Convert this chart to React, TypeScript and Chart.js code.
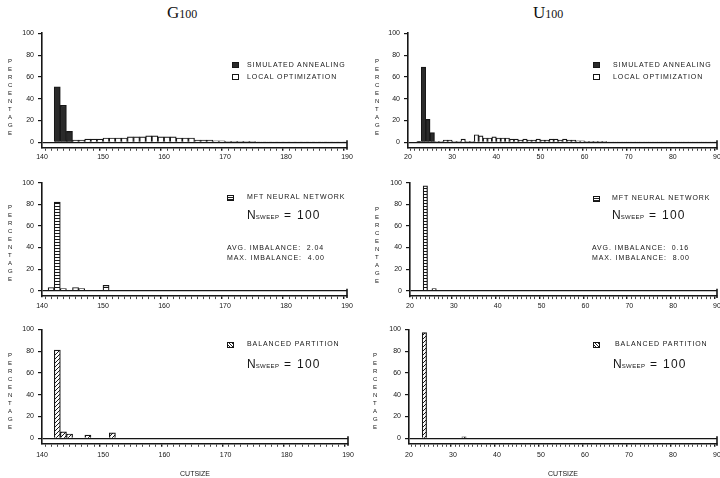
import React, { useEffect, useRef } from "react";
import { Chart, registerables } from "chart.js";

Chart.register(...registerables);

// ---------- data ----------
const gXTicks = [140, 150, 160, 170, 180, 190];
const uXTicks = [20, 30, 40, 50, 60, 70, 80, 90];
const yTicks = [0, 20, 40, 60, 80, 100];

// G100 — simulated annealing (bin lower edge, percentage)
const gSaBins = [142, 143, 144];
const gSaVals = [51, 34, 10];
// G100 — local optimization
const gLoBins = [
  144, 145, 146, 147, 148, 149, 150, 151, 152, 153, 154, 155, 156, 157, 158, 159, 160,
  161, 162, 163, 164, 165, 166, 167, 168, 169, 170, 171, 172, 173, 174, 175, 176, 177,
  178, 179, 180, 181, 182, 183, 184, 185, 186, 187, 188, 189,
];
const gLoVals = [
  2, 2, 2, 3, 3, 3, 4, 4, 4, 4, 5, 5, 5, 6, 6, 5, 5,
  5, 4, 4, 4, 2, 2, 2, 1.5, 1.5, 1, 1, 1, 1, 1, 0.5, 0.5, 0.5,
  0.5, 0.5, 0.5, 0.5, 0.5, 0.5, 0.5, 0.5, 0.5, 0.5, 0.5, 0.5,
];
// U100 — simulated annealing
const uSaBins = [22, 23, 24, 25];
const uSaVals = [1, 69, 21, 9];
// U100 — local optimization
const uLoBins = [
  26, 27, 28, 29, 30, 31, 32, 33, 34, 35, 36, 37, 38, 39, 40, 41, 42, 43, 44, 45, 46,
  47, 48, 49, 50, 51, 52, 53, 54, 55, 56, 57, 58, 59, 60, 61, 62, 63, 64, 65, 66, 67,
  68, 69, 70, 71, 72, 73, 74, 75, 76, 77, 78, 79, 80, 81, 82, 83, 84, 85, 86, 87, 88, 89,
];
const uLoVals = [
  1, 1, 2, 2, 1, 1, 3, 1, 1, 7, 6, 4, 4, 5, 4, 4, 4, 3, 3, 2, 3,
  2, 2, 3, 2, 2, 3, 3, 2, 3, 2, 2, 1.5, 1.5, 1, 1, 1, 1, 1, 0.5, 0.5, 0.5,
  0.5, 0.5, 0.5, 0.5, 0.5, 0.5, 0.5, 0.5, 0.5, 0.5, 0.5, 0.5, 0.5, 0.5, 0.5, 0.5, 0.5, 0.5, 0.5, 0.5, 0.5, 0.5,
];
// MFT neural network
const gMftBins = [141, 142, 143, 145, 146, 150];
const gMftVals = [3, 82, 2, 3, 2, 5];
const uMftBins = [23, 25];
const uMftVals = [97, 2];
// Balanced partition
const gBalBins = [142, 143, 144, 147, 151];
const gBalVals = [81, 6, 4, 3, 5];
const uBalBins = [23, 32];
const uBalVals = [97, 1.5];

// ---------- style ----------
const INK = "#161616";
const SANS = "'Liberation Sans', Arial, sans-serif";
const SERIF = "'Liberation Serif', 'Times New Roman', serif";

type Kind = "solid" | "open" | "stripe" | "hatch";

function makeFill(kind: Kind): string | CanvasPattern {
  if (kind === "solid") return "#2a2a2a";
  if (kind === "open") return "#ffffff";
  const c = document.createElement("canvas");
  const ctx = c.getContext("2d")!;
  if (kind === "stripe") {
    c.width = 4;
    c.height = 3;
    ctx.fillStyle = "#fff";
    ctx.fillRect(0, 0, 4, 3);
    ctx.fillStyle = INK;
    ctx.fillRect(0, 2, 4, 1);
  } else {
    c.width = 4;
    c.height = 4;
    ctx.fillStyle = "#fff";
    ctx.fillRect(0, 0, 4, 4);
    ctx.strokeStyle = INK;
    ctx.lineWidth = 1;
    ctx.beginPath();
    ctx.moveTo(-1, 5);
    ctx.lineTo(5, -1);
    ctx.moveTo(-1, 1);
    ctx.lineTo(1, -1);
    ctx.moveTo(3, 5);
    ctx.lineTo(5, 3);
    ctx.stroke();
  }
  return ctx.createPattern(c, "repeat")!;
}

const bandEnd = {
  id: "bandEnd",
  afterDraw(chart: any) {
    const { ctx, chartArea, scales } = chart;
    const y0 = scales.y.getPixelForValue(0);
    ctx.save();
    ctx.strokeStyle = INK;
    ctx.lineWidth = 1.6;
    ctx.beginPath();
    ctx.moveTo(chartArea.right, y0 - 2);
    ctx.lineTo(chartArea.right, chartArea.bottom + 2);
    ctx.stroke();
    ctx.restore();
  },
};

type Series = { bins: number[]; vals: number[]; kind: Kind };
type PanelDef = {
  left: number;
  top: number;
  width: number;
  height: number;
  aL: number;
  aR: number;
  aT: number;
  aB: number;
  xMin: number;
  xMax: number;
  xTicks: number[];
  series: Series[];
  cutTitle: boolean;
  tickPad: number;
};

function Panel(p: PanelDef) {
  const ref = useRef<HTMLCanvasElement>(null);
  useEffect(() => {
    const unit = (p.aR - p.aL) / (p.xMax - p.xMin);
    const minor: number[] = [];
    for (let v = p.xMin; v <= p.xMax; v++) minor.push(v);
    const datasets = p.series.map((s) => ({
      data: s.bins.map((b, i) => ({ x: b + 0.5, y: s.vals[i] })),
      backgroundColor: makeFill(s.kind),
      borderColor: INK,
      borderWidth: 1.2,
      grouped: false,
      barThickness: unit,
    }));
    const yW = p.aL - p.left;
    const xH = p.top + p.height - p.aB;
    const chart = new Chart(ref.current!, {
      type: "bar",
      data: { datasets },
      plugins: [bandEnd],
      options: {
        responsive: false,
        animation: false,
        layout: {
          padding: { left: 0, right: p.left + p.width - p.aR, top: p.aT - p.top, bottom: 0 },
        },
        plugins: { legend: { display: false }, tooltip: { enabled: false } },
        scales: {
          x: {
            type: "linear",
            min: p.xMin,
            max: p.xMax,
            offset: false,
            afterBuildTicks: (s: any) => {
              s.ticks = minor.map((v) => ({ value: v }));
            },
            afterFit: (s: any) => {
              s.height = xH;
              s.paddingLeft = 0;
              s.paddingRight = 0;
            },
            ticks: {
              autoSkip: false,
              maxRotation: 0,
              minRotation: 0,
              padding: p.tickPad,
              color: INK,
              font: { family: SANS, size: 7 },
              callback: (v: any) => (p.xTicks.includes(v) ? String(v) : ""),
            },
            grid: {
              drawOnChartArea: false,
              tickLength: 3,
              color: INK,
              lineWidth: (c: any) => (c.tick && p.xTicks.includes(c.tick.value) ? 1.4 : 0.8),
            },
            border: { display: true, color: INK, width: 1.6 },
            title: {
              display: p.cutTitle,
              text: "CUTSIZE",
              color: INK,
              font: { family: SANS, size: 7 },
              padding: { top: 0, bottom: 0 },
            },
          },
          y: {
            min: -5,
            max: 100,
            afterBuildTicks: (s: any) => {
              s.ticks = yTicks.map((v) => ({ value: v }));
            },
            afterFit: (s: any) => {
              s.width = yW;
              s.paddingTop = 0;
              s.paddingBottom = 0;
            },
            ticks: { padding: 4, color: INK, font: { family: SANS, size: 7 } },
            grid: {
              drawOnChartArea: true,
              tickLength: 4,
              color: (c: any) => (c.tick && c.tick.value === 0 ? INK : "rgba(0,0,0,0)"),
              tickColor: INK,
              lineWidth: 1.2,
            },
            border: { display: true, color: INK, width: 1.6 },
          },
        },
      } as any,
    });
    return () => chart.destroy();
  }, []);
  return (
    <canvas
      ref={ref}
      width={p.width}
      height={p.height}
      style={{ position: "absolute", left: p.left, top: p.top, width: p.width, height: p.height }}
    />
  );
}

const swatchBg: Record<Kind, string> = {
  solid: "#2a2a2a",
  open: "#ffffff",
  stripe: "repeating-linear-gradient(to bottom, #fff 0px, #fff 1px, #222 1px, #222 2px)",
  hatch: "repeating-linear-gradient(45deg, #fff 0px, #fff 1px, #222 1px, #222 2px)",
};

function Small(props: { x: number; y: number; text: string }) {
  return (
    <div
      style={{
        position: "absolute",
        left: props.x,
        top: props.y - 4,
        fontFamily: SANS,
        fontSize: 7,
        lineHeight: "8px",
        letterSpacing: 0.9,
        color: INK,
        whiteSpace: "pre",
      }}
    >
      {props.text}
    </div>
  );
}

function Swatch(props: { x: number; y: number; kind: Kind }) {
  return (
    <div
      style={{
        position: "absolute",
        left: props.x,
        top: props.y,
        width: 5,
        height: 4,
        border: `1px solid ${INK}`,
        background: swatchBg[props.kind],
      }}
    />
  );
}

function NSweep(props: { x: number; y: number }) {
  return (
    <div
      style={{
        position: "absolute",
        left: props.x,
        top: props.y - 8,
        fontFamily: SANS,
        color: INK,
        whiteSpace: "pre",
        lineHeight: "16px",
      }}
    >
      <span style={{ fontSize: 12 }}>N</span>
      <span style={{ fontSize: 6, letterSpacing: 0.4 }}>SWEEP</span>
      <span style={{ fontSize: 12, letterSpacing: 1.3 }}> = 100</span>
    </div>
  );
}

function Vert(props: { x: number; y: number }) {
  return (
    <div
      style={{
        position: "absolute",
        left: props.x - 2,
        top: props.y,
        width: 1,
        fontFamily: SANS,
        fontSize: 6,
        lineHeight: "8px",
        wordBreak: "break-all",
        color: INK,
      }}
    >
      PERCENTAGE
    </div>
  );
}

function Title(props: { x: number; letter: string }) {
  return (
    <div
      style={{
        position: "absolute",
        left: props.x,
        top: 2,
        fontFamily: SERIF,
        color: "#111",
        whiteSpace: "pre",
        lineHeight: "22px",
      }}
    >
      <span style={{ fontSize: 17 }}>{props.letter}</span>
      <span style={{ fontSize: 12 }}>100</span>
    </div>
  );
}

const panels: PanelDef[] = [
  { left: 0, top: 22, width: 360, height: 146, aL: 42, aR: 347, aT: 33.3, aB: 147.8, xMin: 140, xMax: 190, xTicks: gXTicks,
    series: [ { bins: gSaBins, vals: gSaVals, kind: "solid" }, { bins: gLoBins, vals: gLoVals, kind: "open" } ], cutTitle: false, tickPad: 2 },
  { left: 360, top: 22, width: 360, height: 146, aL: 408, aR: 717, aT: 33.3, aB: 147.8, xMin: 20, xMax: 90, xTicks: uXTicks,
    series: [ { bins: uSaBins, vals: uSaVals, kind: "solid" }, { bins: uLoBins, vals: uLoVals, kind: "open" } ], cutTitle: false, tickPad: 2 },
  { left: 0, top: 168, width: 360, height: 146, aL: 42, aR: 347, aT: 182.7, aB: 296.1, xMin: 140, xMax: 190, xTicks: gXTicks,
    series: [ { bins: gMftBins, vals: gMftVals, kind: "stripe" } ], cutTitle: false, tickPad: 2.5 },
  { left: 360, top: 168, width: 360, height: 146, aL: 410, aR: 717, aT: 182.7, aB: 296.1, xMin: 20, xMax: 90, xTicks: uXTicks,
    series: [ { bins: uMftBins, vals: uMftVals, kind: "stripe" } ], cutTitle: false, tickPad: 2.5 },
  { left: 0, top: 314, width: 360, height: 164, aL: 42, aR: 348, aT: 329.3, aB: 443.8, xMin: 140, xMax: 190, xTicks: gXTicks,
    series: [ { bins: gBalBins, vals: gBalVals, kind: "hatch" } ], cutTitle: true, tickPad: 4.5 },
  { left: 360, top: 314, width: 360, height: 164, aL: 409, aR: 717, aT: 329.3, aB: 443.8, xMin: 20, xMax: 90, xTicks: uXTicks,
    series: [ { bins: uBalBins, vals: uBalVals, kind: "hatch" } ], cutTitle: true, tickPad: 4.5 },
];

export default function App() {
  return (
    <div
      style={{
        position: "absolute",
        left: 0,
        top: 0,
        width: 720,
        height: 478,
        background: "#fff",
        overflow: "hidden",
      }}
    >
      <Title x={167} letter="G" />
      <Title x={533} letter="U" />
      {panels.map((p, i) => (
        <Panel key={i} {...p} />
      ))}

      <Vert x={10} y={57} />
      <Vert x={377} y={57} />
      <Vert x={10} y={203} />
      <Vert x={377} y={205} />
      <Vert x={10} y={351} />
      <Vert x={375} y={351} />

      {/* top-left legend */}
      <Swatch x={232} y={62} kind="solid" />
      <Small x={247} y={65} text="SIMULATED ANNEALING" />
      <Swatch x={232} y={74} kind="open" />
      <Small x={247} y={77} text="LOCAL OPTIMIZATION" />
      {/* top-right legend */}
      <Swatch x={593} y={62} kind="solid" />
      <Small x={613} y={65} text="SIMULATED ANNEALING" />
      <Swatch x={593} y={74} kind="open" />
      <Small x={613} y={77} text="LOCAL OPTIMIZATION" />

      {/* middle-left */}
      <Swatch x={227} y={195} kind="stripe" />
      <Small x={247} y={197} text="MFT NEURAL NETWORK" />
      <NSweep x={247} y={214} />
      <Small x={227} y={248} text="AVG. IMBALANCE:  2.04" />
      <Small x={227} y={258} text="MAX. IMBALANCE:  4.00" />
      {/* middle-right */}
      <Swatch x={593} y={196} kind="stripe" />
      <Small x={612} y={198} text="MFT NEURAL NETWORK" />
      <NSweep x={612} y={214} />
      <Small x={592} y={248} text="AVG. IMBALANCE:  0.16" />
      <Small x={592} y={258} text="MAX. IMBALANCE:  8.00" />

      {/* bottom-left */}
      <Swatch x={227} y={342} kind="hatch" />
      <Small x={247} y={344} text="BALANCED PARTITION" />
      <NSweep x={247} y={363} />
      {/* bottom-right */}
      <Swatch x={593} y={342} kind="hatch" />
      <Small x={615} y={344} text="BALANCED PARTITION" />
      <NSweep x={613} y={363} />
    </div>
  );
}
